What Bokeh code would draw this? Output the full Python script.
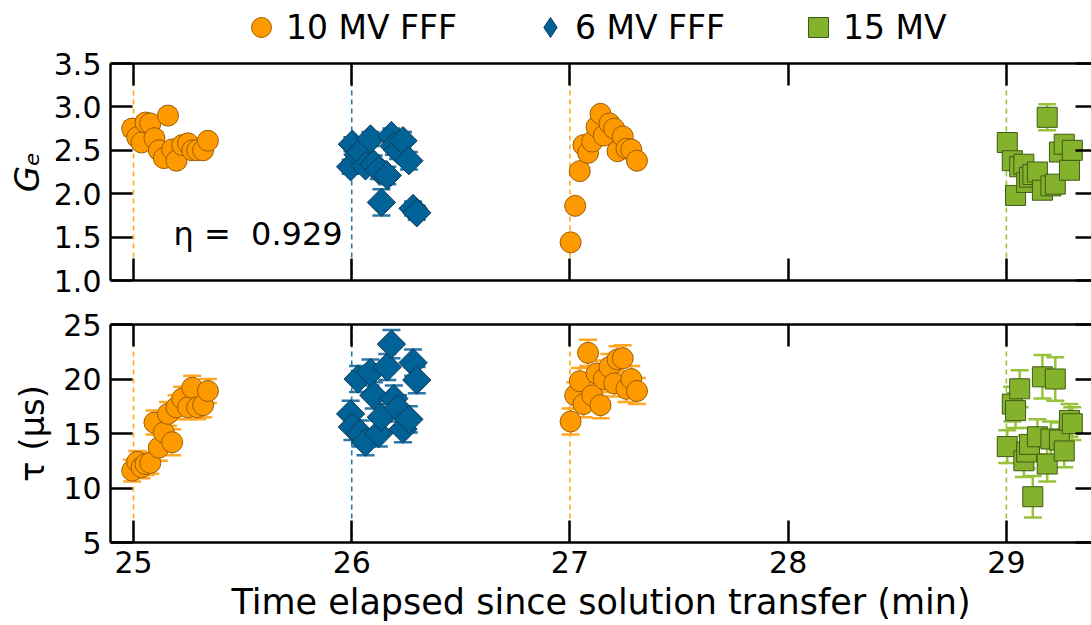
from bokeh.plotting import figure
from bokeh.models import (Range1d, LinearAxis, FixedTicker, Span, Whisker, TeeHead,
                          ColumnDataSource, Legend, LegendItem, Label, NumeralTickFormatter)
from bokeh.layouts import column
from bokeh.embed import file_html
from bokeh.resources import INLINE

# ---------------- data ----------------
x_ticks = [25, 26, 27, 28, 29]
ge_ticks = [1.0, 1.5, 2.0, 2.5, 3.0, 3.5]
tau_ticks = [5, 10, 15, 20, 25]

series_names = ["10 MV FFF", "6 MV FFF", "15 MV"]
start_times = [25, 26, 27, 29]
start_series = [0, 1, 0, 2]

# 10 MV FFF, first run
t_10a = [24.994, 25.017, 25.037, 25.055, 25.077, 25.096, 25.116, 25.139, 25.158,
         25.177, 25.197, 25.223, 25.250, 25.269, 25.292, 25.319, 25.341]
ge_10a = [2.75, 2.65, 2.59, 2.82, 2.81, 2.64, 2.50, 2.41, 2.90, 2.51, 2.38, 2.56,
          2.58, 2.50, 2.50, 2.50, 2.61]
ge_err_10a = [0.08, 0.07, 0.06, 0.07, 0.06, 0.07, 0.06, 0.06, 0.07, 0.06, 0.06,
              0.06, 0.06, 0.06, 0.06, 0.06, 0.06]
tau_10a = [11.6, 12.4, 11.9, 12.2, 12.3, 16.0, 13.7, 15.1, 16.8, 14.2, 17.4, 18.2,
           17.4, 19.2, 17.4, 17.6, 18.9]
tau_err_10a = [1.0, 1.0, 1.0, 1.0, 1.0, 1.1, 1.2, 1.1, 1.1, 1.2, 1.1, 1.1, 1.1,
               1.1, 1.1, 1.1, 1.1]

# 6 MV FFF
t_6 = [25.995, 26.003, 26.029, 26.040, 26.063, 26.086, 26.101, 26.124, 26.136,
       26.163, 26.182, 26.193, 26.212, 26.235, 26.262, 26.281, 26.298]
ge_6 = [2.31, 2.57, 2.45, 2.48, 2.32, 2.63, 2.34, 2.27, 1.90, 2.21, 2.67, 2.55,
        2.50, 2.61, 2.38, 1.83, 1.78]
ge_err_6 = [0.08, 0.08, 0.08, 0.08, 0.08, 0.08, 0.1, 0.1, 0.15, 0.1, 0.08, 0.1,
            0.1, 0.1, 0.1, 0.08, 0.08]
tau_6 = [16.8, 15.6, 20.0, 15.0, 14.2, 20.6, 18.5, 15.0, 16.5, 21.1, 23.2, 18.2,
         17.3, 15.4, 16.3, 21.5, 19.9]
tau_err_6 = [1.2, 1.2, 1.2, 1.2, 1.2, 1.2, 1.2, 1.2, 1.2, 1.2, 1.3, 1.2, 1.2,
             1.2, 1.2, 1.2, 1.2]

# 10 MV FFF, second run
t_10b = [27.003, 27.024, 27.045, 27.062, 27.083, 27.102, 27.122, 27.140, 27.155,
         27.181, 27.203, 27.218, 27.242, 27.259, 27.281, 27.307]
ge_10b = [1.44, 1.86, 2.26, 2.56, 2.47, 2.60, 2.77, 2.92, 2.67, 2.81, 2.75, 2.49,
          2.66, 2.52, 2.51, 2.38]
ge_err_10b = [0.04, 0.04, 0.04, 0.05, 0.05, 0.05, 0.05, 0.05, 0.05, 0.05, 0.05,
              0.05, 0.05, 0.05, 0.05, 0.05]
tau_10b = [16.1, 18.5, 19.8, 17.7, 22.4, 18.5, 20.5, 17.6, 20.0, 21.1, 19.6, 21.8,
           21.9, 19.1, 20.0, 18.9]
tau_err_10b = [1.2, 1.2, 1.2, 1.2, 1.2, 1.2, 1.2, 1.2, 1.2, 1.2, 1.2, 1.2, 1.2,
               1.2, 1.2, 1.2]

# 15 MV
t_15 = [29.004, 29.027, 29.042, 29.061, 29.080, 29.093, 29.106, 29.121, 29.142,
        29.165, 29.187, 29.204, 29.224, 29.243, 29.265, 29.289, 29.302]
ge_15 = [2.59, 2.38, 1.98, 2.31, 2.34, 2.13, 2.19, 2.22, 2.25, 2.04, 2.88, 2.09,
         2.11, 2.48, 2.57, 2.27, 2.50]
ge_err_15 = [0.08, 0.08, 0.08, 0.08, 0.08, 0.08, 0.08, 0.08, 0.08, 0.08, 0.15,
             0.08, 0.08, 0.08, 0.08, 0.08, 0.08]
tau_15 = [13.8, 17.7, 17.1, 19.1, 12.5, 13.3, 14.0, 9.2, 14.7, 20.2, 12.2, 14.5,
          20.0, 14.4, 13.4, 16.2, 15.9]
tau_err_15 = [1.5, 1.6, 1.6, 1.7, 1.5, 1.5, 1.5, 1.9, 1.6, 2.0, 1.6, 1.6, 2.0,
              1.6, 1.5, 1.5, 1.5]

eta_text = "η =\u00a0 0.929"

# ---------------- styles ----------------
FONT = "DejaVu Sans"
fills = ["#ff9900", "#006296", "#84b22c"]
edges = ["#9a5e00", "#123a55", "#3d5a14"]
errc = ["#ffa824", "#2a78a8", "#98c23c"]
markers = ["circle", "square", "square"]
legend_markers = ["circle", "diamond", "square"]
angles = [0.0, 0.785398, 0.0]
msizes = [21, 20, 20]

groups = [
    (0, t_10a, ge_10a, ge_err_10a, tau_10a, tau_err_10a),
    (1, t_6, ge_6, ge_err_6, tau_6, tau_err_6),
    (0, t_10b, ge_10b, ge_err_10b, tau_10b, tau_err_10b),
    (2, t_15, ge_15, ge_err_15, tau_15, tau_err_15),
]

x_range = Range1d(24.8946, 29.390)


def make_fig(height, yr, border_top, border_bottom, left=110):
    p = figure(width=1091, height=height, x_range=x_range, y_range=yr,
               output_backend="svg", toolbar_location=None,
               x_axis_location=None, y_axis_location=None,
               min_border_left=left, min_border_right=0,
               min_border_top=border_top, min_border_bottom=border_bottom)
    p.outline_line_color = None
    p.xgrid.visible = False
    p.ygrid.visible = False
    p.background_fill_color = "white"
    return p


def style_axis(ax, ticks, show_labels, line=True, size="30px"):
    ax.ticker = FixedTicker(ticks=ticks)
    ax.major_tick_in = 22
    ax.major_tick_out = 0
    ax.minor_tick_line_color = None
    ax.major_tick_line_width = 2.5
    ax.major_tick_line_color = "black"
    ax.axis_line_width = 2.5
    ax.axis_line_color = "black" if line else None
    ax.major_label_text_font = FONT
    ax.major_label_text_color = "black"
    if show_labels:
        ax.major_label_text_font_size = size
    else:
        ax.major_label_text_font_size = "1px"
        ax.major_label_overrides = {t: "" for t in ticks}
        ax.major_label_standoff = 0


def add_frame_axes(p, yticks, ylabel, ylabel_style, xlabels, lab_standoff, yfmt=None):
    left = LinearAxis()
    style_axis(left, yticks, True)
    if yfmt is not None:
        left.formatter = NumeralTickFormatter(format=yfmt)
    left.major_label_standoff = 9
    left.axis_label = ylabel
    left.axis_label_text_font = FONT
    left.axis_label_text_color = "black"
    left.axis_label_text_font_size = "34px"
    left.axis_label_text_font_style = ylabel_style
    left.axis_label_standoff = lab_standoff
    p.add_layout(left, "left")

    right = LinearAxis()
    style_axis(right, yticks, False, line=False)
    right.major_tick_in = 16
    p.add_layout(right, "right")

    top = LinearAxis()
    style_axis(top, x_ticks, False)
    p.add_layout(top, "above")

    bottom = LinearAxis()
    style_axis(bottom, x_ticks, xlabels)
    if xlabels:
        bottom.major_label_standoff = 8
        bottom.axis_label = "Time elapsed since solution transfer (min)"
        bottom.axis_label_text_font = FONT
        bottom.axis_label_text_color = "black"
        bottom.axis_label_text_font_size = "35px"
        bottom.axis_label_text_font_style = "normal"
        bottom.axis_label_standoff = 6
    p.add_layout(bottom, "below")


def add_spans(p):
    for loc, si in zip(start_times, start_series):
        p.add_layout(Span(location=loc, dimension="height", line_color=errc[si],
                          line_dash="5 4", line_width=1.6, level="underlay"))


# legend strip (its renderers lie outside its visible y range)
p0 = make_fig(47, Range1d(100, 101), 0, 0, left=0)
p1 = make_fig(253, Range1d(1.0, 3.5), 16, 20)
p2 = make_fig(325, Range1d(5, 25), 24, 83)

add_spans(p1)
add_spans(p2)

legend_renderers = {}
for si, t, ge, ge_err, tau, tau_err in groups:
    src = ColumnDataSource(dict(
        t=t, ge=ge, tau=tau,
        ge_lo=[v - e for v, e in zip(ge, ge_err)],
        ge_hi=[v + e for v, e in zip(ge, ge_err)],
        tau_lo=[v - e for v, e in zip(tau, tau_err)],
        tau_hi=[v + e for v, e in zip(tau, tau_err)],
    ))
    for p, y, lo, hi in ((p1, "ge", "ge_lo", "ge_hi"), (p2, "tau", "tau_lo", "tau_hi")):
        w = Whisker(source=src, base="t", lower=lo, upper=hi, dimension="height",
                    line_color=errc[si], line_width=2.5, level="underlay",
                    upper_head=TeeHead(size=18, line_color=errc[si], line_width=2.5),
                    lower_head=TeeHead(size=18, line_color=errc[si], line_width=2.5))
        p.add_layout(w)
        p.scatter("t", y, source=src, marker=markers[si], size=msizes[si],
                  angle=angles[si], fill_color=fills[si], line_color=edges[si],
                  line_width=1)
    if si not in legend_renderers:
        legend_renderers[si] = p0.scatter("t", "ge", source=src, marker=legend_markers[si],
                                          size=msizes[si],
                                          fill_color=fills[si], line_color=edges[si],
                                          line_width=1)

add_frame_axes(p1, ge_ticks, "Gₑ", "italic", False, 4, yfmt="0.0")
add_frame_axes(p2, tau_ticks, "τ (μs)", "normal", True, 8)

p1.add_layout(Label(x=25.183, y=1.54, text=eta_text, text_font=FONT,
                    text_font_size="32px", text_baseline="middle",
                    text_align="left", text_color="black"))

legend = Legend(items=[LegendItem(label=series_names[i], renderers=[legend_renderers[i]])
                       for i in range(3)],
                orientation="horizontal", location=(126, -5),
                label_text_font=FONT, label_text_font_size="33px",
                label_text_color="black", label_height=34,
                border_line_color=None, background_fill_alpha=0,
                glyph_width=50, glyph_height=50, label_standoff=0, spacing=68,
                padding=0, margin=0)
p0.add_layout(legend, "center")

layout = column(p0, p1, p2, spacing=0)
open("out.html", "w").write(file_html(layout, INLINE))
